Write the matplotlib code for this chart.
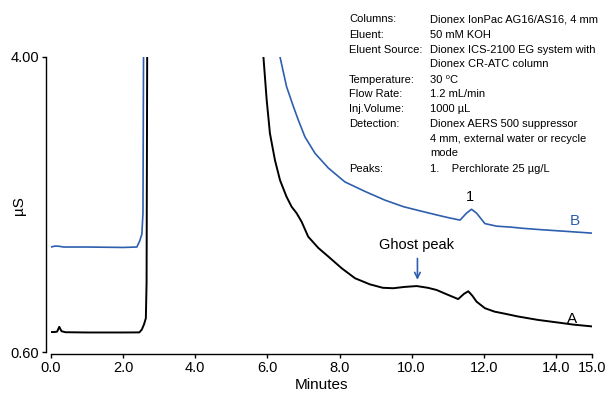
import matplotlib
matplotlib.use("Agg")
import matplotlib.pyplot as plt

plt.rcParams["font.family"] = ["Liberation Sans", "DejaVu Sans"]

# ── 数据 ──
# 曲线 A：黑色
time_a = [0.0, 0.1, 0.17, 0.23, 0.29, 0.4, 1.0, 2.0, 2.45, 2.52, 2.58, 2.63, 2.65, 2.67,
          5.88, 5.89, 5.98, 6.07, 6.21, 6.35, 6.53, 6.67, 6.81, 6.95, 7.13, 7.41, 7.69,
          8.06, 8.43, 8.84, 9.2, 9.49, 9.8, 10.14, 10.45, 10.69, 11.0, 11.29, 11.45,
          11.57, 11.68, 11.8, 12.03, 12.3, 12.6, 12.94, 13.5, 14.05, 14.5, 15.0]
signal_a = [0.83, 0.83, 0.835, 0.89, 0.84, 0.828, 0.825, 0.825, 0.826, 0.86, 0.92, 0.99, 1.4, 4.5,
            4.1, 4.0, 3.505, 3.12, 2.81, 2.58, 2.39, 2.275, 2.2, 2.1, 1.93, 1.8, 1.7,
            1.565, 1.45, 1.38, 1.34, 1.335, 1.35, 1.36, 1.34, 1.315, 1.26, 1.21, 1.27,
            1.3, 1.25, 1.18, 1.105, 1.065, 1.04, 1.01, 0.97, 0.94, 0.915, 0.895]

# 曲线 B：蓝色
time_b = [0.0, 0.1, 0.2, 0.35, 1.0, 2.0, 2.38, 2.46, 2.52, 2.55, 2.57,
          6.3, 6.35, 6.53, 6.72, 6.86, 7.04, 7.32, 7.69, 8.15, 8.71, 9.26, 9.77, 10.2,
          10.69, 11.0, 11.34, 11.52, 11.66, 11.8, 12.03, 12.36, 12.73, 13.1, 13.58, 14.3, 15.0]
signal_b = [1.81, 1.82, 1.82, 1.81, 1.81, 1.805, 1.81, 1.88, 1.96, 2.2, 4.5,
            4.1, 4.0, 3.66, 3.43, 3.27, 3.08, 2.89, 2.72, 2.56, 2.45, 2.35, 2.275, 2.23,
            2.18, 2.15, 2.12, 2.2, 2.245, 2.2, 2.08, 2.05, 2.04, 2.025, 2.01, 1.99, 1.97]

x_ticks = [0, 2, 4, 6, 8, 10, 12, 14, 15]
x_ticklabels = ["0.0", "2.0", "4.0", "6.0", "8.0", "10.0", "12.0", "14.0", "15.0"]
y_ticks = [0.60, 4.00]

cond_keys = ["Columns:", "Eluent:", "Eluent Source:", "", "Temperature:", "Flow Rate:",
             "Inj.Volume:", "Detection:", "", "", "Peaks:"]
cond_vals = ["Dionex IonPac AG16/AS16, 4 mm", "50 mM KOH", "Dionex ICS-2100 EG system with",
             "Dionex CR-ATC column", "30 \u2070C", "1.2 mL/min", "1000 \u00b5L",
             "Dionex AERS 500 suppressor", "4 mm, external water or recycle", "mode",
             "1.    Perchlorate 25 \u00b5g/L"]

BLUE = "#2d5fae"

fig = plt.figure(figsize=(6.09, 4.00), dpi=100)
ax = fig.add_axes([51 / 609, 1 - 354 / 400, 541 / 609, 297 / 400])

ax.plot(time_a, signal_a, color="black", linewidth=1.4, solid_joinstyle="round")
ax.plot(time_b, signal_b, color=BLUE, linewidth=1.2, solid_joinstyle="round")

ax.set_xlim(0, 15)
ax.set_ylim(0.577, 4.0)

# 坐标轴样式
for s in ["top", "right"]:
    ax.spines[s].set_visible(False)
ax.spines["left"].set_position(("outward", 3.6))
ax.spines["left"].set_bounds(0.60, 4.00)
ax.spines["bottom"].set_bounds(0, 15)
ax.spines["left"].set_linewidth(1.0)
ax.spines["bottom"].set_linewidth(1.0)

ax.set_xticks(x_ticks)
ax.set_xticklabels(x_ticklabels)
ax.set_yticks(y_ticks)
ax.set_yticklabels(["%.2f" % v for v in y_ticks])
ax.tick_params(axis="both", labelsize=10.5, length=3, width=1.0, pad=2)

ax.set_xlabel("Minutes", fontsize=11, labelpad=2)
ax.set_ylabel("\u00b5S", fontsize=11)
ax.yaxis.set_label_coords(-0.046, 0.5)

# 标注
ax.text(11.62, 2.39, "1", ha="center", va="center", fontsize=10.5)
ax.text(14.53, 2.11, "B", ha="center", va="center", fontsize=11, color=BLUE)
ax.text(14.46, 0.98, "A", ha="center", va="center", fontsize=11)
ax.text(10.14, 1.83, "Ghost peak", ha="center", va="center", fontsize=10.5)
ax.annotate("", xy=(10.16, 1.40), xytext=(10.16, 1.71),
            arrowprops=dict(arrowstyle="->", color=BLUE, lw=1.2))

# 条件表
row_y = [19.3, 35, 50, 64.3, 80, 94.3, 109.3, 124.3, 139.3, 153.3, 169.3]
for key, val, yp in zip(cond_keys, cond_vals, row_y):
    fy = 1 - yp / 400
    if key:
        fig.text(349 / 609, fy, key, ha="left", va="center", fontsize=8)
    fig.text(430 / 609, fy, val, ha="left", va="center", fontsize=8)

fig.savefig("out.png", dpi=100, facecolor="white")
